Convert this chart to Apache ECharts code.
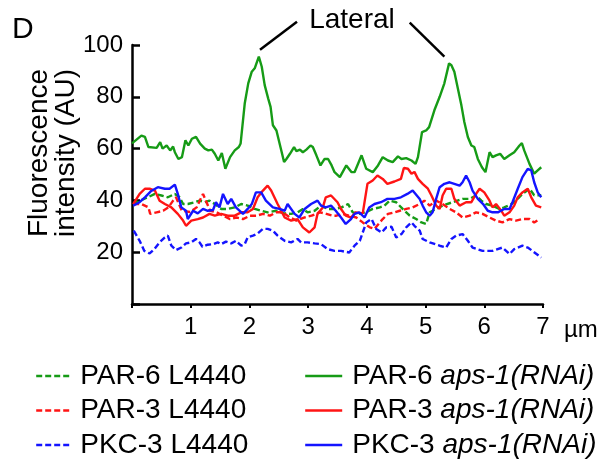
<!DOCTYPE html>
<html>
<head>
<meta charset="utf-8">
<script src="https://cdn.jsdelivr.net/npm/echarts@6/dist/echarts.min.js"></script>
<style>
  html, body { margin: 0; padding: 0; background: #fff; }
  #chart { width: 615px; height: 462px; }
</style>
</head>
<body>
<div id="chart"></div>
<script>
// positions along the cell, in µm, and intensity in AU
const par6Rnai = [[0,62],[0.16,65],[0.22,64.5],[0.28,60.6],[0.42,60.3],[0.48,62.5],[0.52,60],[0.59,61.2],[0.65,59.3],[0.70,60.8],[0.73,58.6],[0.79,56],[0.85,56.7],[0.91,63.2],[0.96,61.2],[1.02,63.8],[1.09,64.5],[1.16,61.9],[1.24,60],[1.30,59.3],[1.36,59.6],[1.41,58],[1.47,55.4],[1.53,58.3],[1.59,52.2],[1.67,56.7],[1.75,59.3],[1.82,60.6],[1.85,62],[1.92,77.4],[1.98,85.2],[2.04,89.7],[2.09,91],[2.16,95.5],[2.21,91.6],[2.26,84.5],[2.32,79.3],[2.36,76.1],[2.40,69],[2.46,67],[2.55,58.6],[2.59,54.8],[2.63,56],[2.69,58],[2.76,60.6],[2.80,59],[2.86,59.6],[2.91,58.6],[2.97,59.6],[3.04,61.2],[3.08,60.6],[3.14,57.4],[3.21,53.5],[3.28,56],[3.34,56],[3.40,53.5],[3.45,50.9],[3.54,49],[3.65,53.5],[3.74,50.9],[3.79,50.9],[3.91,57.4],[3.99,52.2],[4.10,50.9],[4.19,53.5],[4.27,56.7],[4.36,55.4],[4.44,54.8],[4.53,57],[4.59,56],[4.67,56.3],[4.76,55.4],[4.83,54.1],[4.87,56.7],[4.94,66.4],[5.01,67],[5.06,68.3],[5.15,74.8],[5.24,80],[5.32,85.2],[5.40,92.9],[5.44,92.2],[5.49,89.7],[5.55,83.2],[5.61,76.7],[5.66,70.3],[5.72,64.5],[5.78,61.2],[5.83,60.6],[5.89,56],[5.96,52.8],[6.02,50.9],[6.09,58.6],[6.14,56.7],[6.20,57.4],[6.27,58],[6.34,56],[6.43,57.4],[6.51,58.6],[6.60,61.2],[6.64,62.1],[6.68,59.3],[6.77,54.1],[6.85,50.3],[6.91,51.6],[6.97,52.8]];

const par3Rnai = [[0.02,38.6],[0.13,42.5],[0.22,44.5],[0.30,44.5],[0.39,43.8],[0.47,39.9],[0.56,38.6],[0.67,37.3],[0.78,34.8],[0.87,32.2],[0.92,30.2],[1.01,32.2],[1.12,32.8],[1.21,33.4],[1.32,34.8],[1.41,34.1],[1.52,34.8],[1.63,34.1],[1.75,34.1],[1.86,35.4],[1.97,35.4],[2.06,36.7],[2.14,41.2],[2.23,43.8],[2.31,45.7],[2.37,43.8],[2.48,38.6],[2.60,33.4],[2.71,32.2],[2.82,32.8],[2.91,29.6],[3.02,27.6],[3.11,29.6],[3.16,34.8],[3.25,37.3],[3.30,41.2],[3.39,41.9],[3.50,39.3],[3.56,36.7],[3.64,34.1],[3.73,33.4],[3.81,35.4],[3.93,35],[4.01,46.4],[4.10,47.7],[4.18,49.6],[4.27,48.3],[4.35,46.4],[4.47,47.3],[4.58,48.3],[4.63,52.5],[4.70,52.2],[4.76,50.3],[4.81,51],[4.87,48.3],[4.95,46.4],[5.04,44.5],[5.10,41.9],[5.18,38],[5.24,36.7],[5.29,41.9],[5.35,44.5],[5.44,44.5],[5.49,40.6],[5.58,38],[5.69,39.3],[5.78,39.3],[5.86,42.5],[5.92,44.5],[6.00,43.1],[6.09,39.9],[6.14,37.3],[6.20,38.6],[6.29,36],[6.34,34.1],[6.43,35.4],[6.51,38],[6.57,41.2],[6.65,43.1],[6.74,44.5],[6.80,41.2],[6.88,38],[6.97,37.3]];

const pkc3Rnai = [[0.02,38],[0.13,39.3],[0.22,41.2],[0.32,43.5],[0.44,45.1],[0.56,44.5],[0.64,44.5],[0.73,46.1],[0.78,42.5],[0.84,37.3],[0.92,36],[0.95,32.8],[1.04,36],[1.12,35],[1.21,36.7],[1.29,36],[1.38,36.3],[1.43,39.3],[1.49,37.3],[1.55,42.5],[1.63,38.6],[1.69,40.6],[1.77,37.3],[1.89,34.8],[1.97,36.7],[2.04,38.6],[2.11,43.1],[2.20,43.1],[2.28,39.9],[2.40,37.3],[2.51,36.7],[2.60,36],[2.65,38.6],[2.77,34.8],[2.85,33.4],[2.94,36.7],[3.05,38.6],[3.16,39.9],[3.22,38],[3.30,37.3],[3.39,38],[3.47,36],[3.56,33.4],[3.64,30.9],[3.73,32.8],[3.79,34.8],[3.87,35.4],[3.96,33.4],[4.04,37.3],[4.13,38.6],[4.24,39.3],[4.35,40.6],[4.47,40.6],[4.58,41.2],[4.69,42.5],[4.78,43.8],[4.81,43.1],[4.90,40.5],[4.95,38],[5.01,35.4],[5.07,34.1],[5.12,35.4],[5.18,40.6],[5.24,45.1],[5.32,46.4],[5.41,47],[5.49,46.4],[5.58,45.7],[5.63,47],[5.69,49.6],[5.75,47],[5.80,43.8],[5.89,40.6],[5.98,38.6],[6.06,36],[6.14,35.4],[6.23,35.4],[6.34,36.7],[6.43,36.7],[6.48,39.3],[6.57,44.5],[6.65,49],[6.74,52.2],[6.80,51.6],[6.85,47],[6.91,43.1],[6.97,41.2]];

const par6L4440 = [[0.02,38.6],[0.15,40],[0.27,41.2],[0.39,42.5],[0.50,41.9],[0.61,41.2],[0.73,42.5],[0.81,41.2],[0.87,38.6],[0.95,38.6],[1.07,39.3],[1.15,39.9],[1.24,39.3],[1.32,39.9],[1.41,38.6],[1.52,36.7],[1.63,36.7],[1.75,37.3],[1.86,38.6],[1.97,38],[2.09,36.7],[2.20,36],[2.31,35.4],[2.45,36],[2.59,35],[2.71,34.8],[2.82,35.4],[2.91,36.7],[2.99,35.4],[3.11,36],[3.22,38],[3.33,36.7],[3.45,36.7],[3.57,37.3],[3.68,38.6],[3.76,35.4],[3.88,34.8],[3.99,35.5],[4.10,36.7],[4.22,37.3],[4.30,38],[4.39,39.9],[4.50,39.3],[4.61,36.7],[4.73,34.1],[4.84,32.8],[4.93,31.5],[5.01,30.9],[5.07,35.4],[5.18,36.7],[5.29,38],[5.46,39.3],[5.63,40.6],[5.75,40.6],[5.86,41.9],[5.95,39.9],[6.03,38.6],[6.14,38],[6.26,36.7],[6.34,37.3],[6.46,38.6],[6.54,39.9],[6.65,42.5],[6.77,44.5],[6.85,42],[6.97,42]];

const par3L4440 = [[0.02,38.6],[0.16,38.6],[0.28,37.3],[0.31,34.8],[0.42,35.4],[0.53,36],[0.62,37.3],[0.70,39.9],[0.75,41.2],[0.85,36],[0.99,35.5],[1.10,37.3],[1.21,42.5],[1.33,36],[1.44,35.4],[1.55,34.1],[1.67,32.8],[1.78,33.4],[1.89,32.8],[2.01,34.1],[2.12,34.1],[2.23,34.8],[2.35,34.1],[2.46,35.4],[2.57,35.4],[2.69,33.4],[2.80,32.2],[2.94,33.4],[3.06,34.1],[3.20,35.4],[3.31,34.8],[3.42,34.1],[3.48,34.1],[3.59,34.8],[3.71,34],[3.82,33.4],[3.93,31.5],[4.05,29.6],[4.13,29],[4.22,31.5],[4.27,32.8],[4.36,34.8],[4.47,35.4],[4.56,36],[4.67,36.7],[4.78,37.3],[4.90,38.6],[4.98,39.9],[5.07,38],[5.18,39.9],[5.29,38.6],[5.41,36.7],[5.52,35.4],[5.63,33.4],[5.75,34.1],[5.86,35.4],[5.97,34.8],[6.09,33.4],[6.20,32.2],[6.31,31.5],[6.43,32.8],[6.54,32.2],[6.65,32.8],[6.77,32.8],[6.85,31.5],[6.94,32.8]];

const pkc3L4440 = [[0.03,28.3],[0.13,24.4],[0.21,20.5],[0.30,19.5],[0.38,21.2],[0.47,23.8],[0.56,25.7],[0.61,26.4],[0.67,22.5],[0.75,20.8],[0.84,21.8],[0.92,23.4],[1.01,23.8],[1.09,25.1],[1.15,23.8],[1.20,22.1],[1.29,22.9],[1.38,23.1],[1.46,23.8],[1.52,23.1],[1.60,24.1],[1.69,23.4],[1.77,24.4],[1.86,22.5],[1.92,23.1],[1.97,25.7],[2.06,26.4],[2.14,27.2],[2.23,29],[2.31,29],[2.40,28.3],[2.48,26.4],[2.60,24.4],[2.71,23.8],[2.82,25.1],[2.88,23.8],[2.99,23.8],[3.11,23.4],[3.22,23.1],[3.33,21.2],[3.45,20.5],[3.56,20.5],[3.70,19.9],[3.79,22.5],[3.88,24.4],[3.99,31.5],[4.08,32.8],[4.16,29],[4.25,27.6],[4.33,29.6],[4.42,29.8],[4.50,25.7],[4.59,27],[4.67,29.6],[4.76,31.5],[4.81,30.2],[4.90,28.3],[4.95,25.1],[5.07,23.8],[5.24,22.5],[5.35,21.8],[5.44,25.1],[5.52,26.4],[5.63,27],[5.72,24.4],[5.80,21.8],[5.97,20.5],[6.14,20.5],[6.31,21.8],[6.43,19.3],[6.51,21.2],[6.65,22.5],[6.74,21.8],[6.82,20.5],[6.97,17.9]];

const xTicks = [0, 1, 2, 3, 4, 5, 6, 7];
const yTicks = [0, 20, 40, 60, 80, 100];

const GREEN = '#169b16';
const RED = '#ff1414';
const BLUE = '#1414ff';
const FONT = '"Liberation Sans", Arial, Helvetica, sans-serif';
const DASH = [6, 3];

var chart = echarts.init(document.getElementById('chart'), null, {renderer: 'canvas'});

function line(name, data, color, dashed) {
    return {
        name: name,
        type: 'line',
        data: data,
        symbol: 'none',
        showSymbol: false,
        smooth: false,
        lineStyle: {color: color, width: 2.4, type: dashed ? DASH : 'solid'},
        itemStyle: {color: color}
    };
}

// shared legend look: line icon only, no symbol dot
var legendBase = {
    orient: 'vertical',
    top: 362,
    height: 100,
    padding: 0,
    itemHeight: 14,
    itemGap: 6.5,
    selectedMode: false,
    itemStyle: {opacity: 0, borderWidth: 0},
    lineStyle: {width: 2.4}
};

var option = {
    animation: false,
    grid: {left: 132, right: 72, top: 45, bottom: 158},
    xAxis: {
        type: 'value',
        min: xTicks[0],
        max: xTicks[xTicks.length - 1],
        interval: 1,
        splitLine: {show: false},
        axisLine: {lineStyle: {color: '#000', width: 2.5}},
        axisTick: {show: true, inside: false, length: 4, lineStyle: {color: '#000', width: 2}},
        axisLabel: {
            color: '#000', fontSize: 24, fontFamily: FONT, margin: 11,
            formatter: v => v === 0 ? '' : String(v)
        },
        name: 'µm',
        nameLocation: 'end',
        nameGap: 21,
        nameTextStyle: {color: '#000', fontSize: 24, fontFamily: FONT, verticalAlign: 'top', align: 'left', padding: [14, 0, 0, 0]}
    },
    yAxis: {
        type: 'value',
        min: yTicks[0],
        max: yTicks[yTicks.length - 1],
        interval: 20,
        splitLine: {show: false},
        axisLine: {show: true, lineStyle: {color: '#000', width: 2.5}},
        axisTick: {show: true, inside: true, length: 8, lineStyle: {color: '#000', width: 2.5}},
        axisLabel: {
            color: '#000', fontSize: 24, fontFamily: FONT, margin: 9,
            formatter: v => v === 0 ? '' : String(v)
        }
    },
    legend: [Object.assign({}, legendBase, {
        data: ['PAR-6 L4440', 'PAR-3 L4440', 'PKC-3 L4440'],
        left: 35,
        itemWidth: 34,
        textStyle: {color: '#000', fontSize: 28, fontFamily: FONT, lineHeight: 28, padding: [0, 0, 0, 5]}
    }), Object.assign({}, legendBase, {
        data: ['PAR-6 aps-1(RNAi)', 'PAR-3 aps-1(RNAi)', 'PKC-3 aps-1(RNAi)'],
        left: 304,
        itemWidth: 37,
        formatter: function (name) {
            var i = name.indexOf(' ');
            return '{n|' + name.slice(0, i + 1) + '}{i|' + name.slice(i + 1) + '}';
        },
        textStyle: {
            color: '#000', fontSize: 28, fontFamily: FONT, lineHeight: 28, padding: [0, 0, 0, 5],
            rich: {
                n: {fontSize: 28, fontFamily: FONT, color: '#000', lineHeight: 28},
                i: {fontSize: 28, fontFamily: FONT, color: '#000', fontStyle: 'italic', lineHeight: 28}
            }
        }
    })],
    series: [
        line('PAR-6 L4440', par6L4440, GREEN, true),
        line('PAR-3 L4440', par3L4440, RED, true),
        line('PKC-3 L4440', pkc3L4440, BLUE, true),
        line('PAR-6 aps-1(RNAi)', par6Rnai, GREEN, false),
        line('PAR-3 aps-1(RNAi)', par3Rnai, RED, false),
        line('PKC-3 aps-1(RNAi)', pkc3Rnai, BLUE, false)
    ]
};

chart.setOption(option);

// pointer lines from the "Lateral" label to the two peaks
var a1 = chart.convertToPixel({gridIndex: 0}, [2.18, 98.2]);
var a2 = chart.convertToPixel({gridIndex: 0}, [2.81, 109]);
var b1 = chart.convertToPixel({gridIndex: 0}, [4.73, 108.6]);
var b2 = chart.convertToPixel({gridIndex: 0}, [5.32, 95.5]);

chart.setOption({
    graphic: [
        {type: 'text', left: 12, top: 15, style: {text: 'D', fontSize: 30, fontFamily: FONT, fill: '#000'}},
        {type: 'text', x: 352, y: 20, style: {text: 'Lateral', fontSize: 28, fontFamily: FONT, fill: '#000', textAlign: 'center', textVerticalAlign: 'middle'}},
        {type: 'line', shape: {x1: a1[0], y1: a1[1], x2: a2[0], y2: a2[1]}, style: {stroke: '#000', lineWidth: 2.5}},
        {type: 'line', shape: {x1: b1[0], y1: b1[1], x2: b2[0], y2: b2[1]}, style: {stroke: '#000', lineWidth: 2.5}},
        {
            type: 'text', x: 53, y: 153, rotation: Math.PI / 2,
            style: {
                text: 'Fluorescence\nintensity (AU)', fontSize: 28, fontFamily: FONT, fill: '#000',
                textAlign: 'center', textVerticalAlign: 'middle', lineHeight: 27
            }
        }
    ]
});
</script>
</body>
</html>
